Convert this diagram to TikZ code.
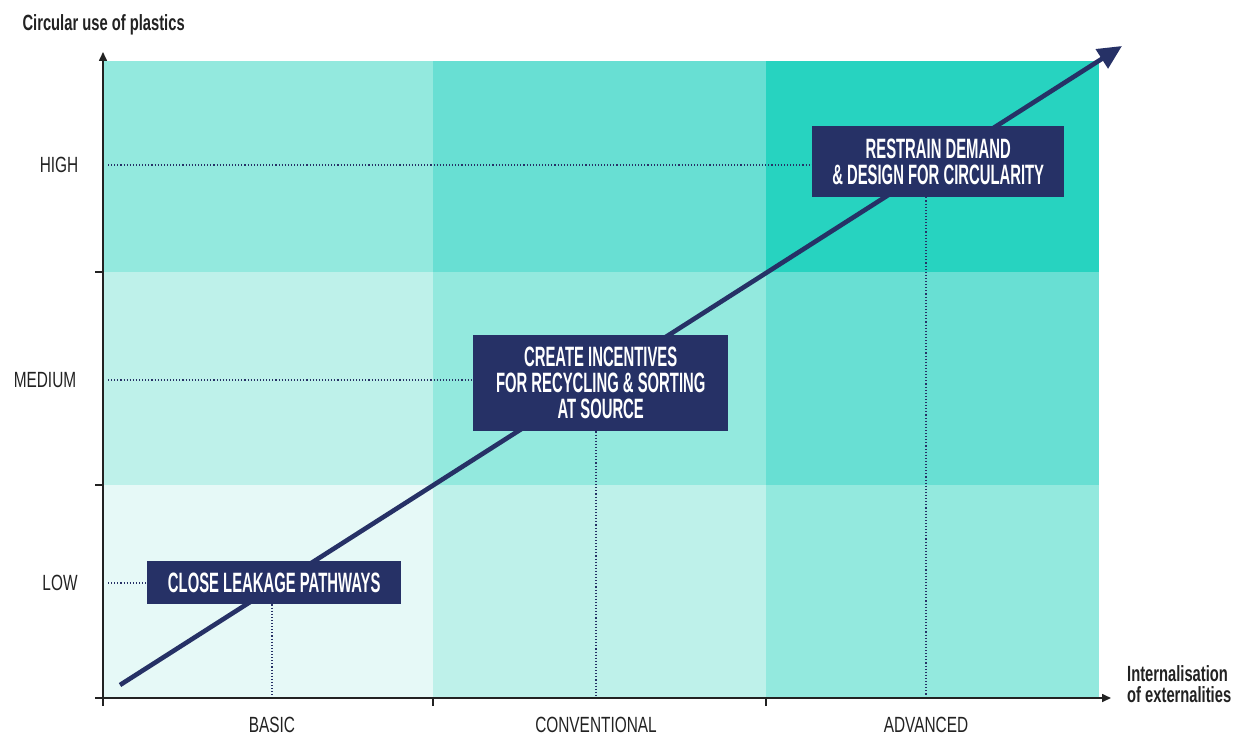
\documentclass[tikz,border=0pt]{standalone}
\usepackage{fontspec}
\usetikzlibrary{arrows.meta}
\newfontfamily\lblfont[FakeStretch=0.70]{Liberation Sans}
\newfontfamily\ttlfont[FakeStretch=0.67]{Liberation Sans}
\newfontfamily\bxfont[FakeStretch=0.53]{Liberation Sans}
\definecolor{cA}{HTML}{E6F9F7}
\definecolor{cB}{HTML}{BEF1EA}
\definecolor{cC}{HTML}{93E9DE}
\definecolor{cD}{HTML}{68DFD3}
\definecolor{cE}{HTML}{27D3C0}
\definecolor{navy}{HTML}{263166}
\definecolor{ink}{HTML}{222222}
\pgfdeclarelayer{bg}
\pgfdeclarelayer{mid}
\pgfsetlayers{bg,mid,main}
\tikzset{
  axis/.style={draw=ink, line width=1.6pt},
  guide/.style={draw=navy, line width=1.1pt, dotted},
  box/.style={fill=navy, text=white, font=\bxfont\bfseries\fontsize{28}{26}\selectfont, align=center, inner sep=0pt, anchor=north west},
  lbl/.style={text=ink, font=\lblfont\fontsize{22}{24}\selectfont},
  ttl/.style={text=ink, font=\ttlfont\bfseries\fontsize{22}{21}\selectfont},
}
\begin{document}
\begin{tikzpicture}[x=1pt,y=-1pt]
\useasboundingbox (0,0) rectangle (1239,735);
% boxes
\node[box, minimum width=254pt, minimum height=43pt] (b1) at (147,561) {CLOSE LEAKAGE PATHWAYS};
\node[box, minimum width=255pt, minimum height=96pt] (b2) at (473,335) {CREATE INCENTIVES\\FOR RECYCLING \& SORTING\\AT SOURCE};
\node[box, minimum width=252pt, minimum height=71pt] (b3) at (812,126) {RESTRAIN DEMAND\\\& DESIGN FOR CIRCULARITY};
% coordinates
\coordinate (o) at (103,706);
\coordinate (ytop) at (103,52);
\coordinate (xl) at (95,698);
\coordinate (xr) at (1111,698);
\coordinate (hH) at (108,165);
\coordinate (hM) at (108,380);
\coordinate (hL) at (108,583);
\coordinate (vB) at (272,698);
\coordinate (vC) at (596,698);
\coordinate (vA) at (926,698);
\coordinate (d0) at (120,685);
\coordinate (d1) at (1122,46);
\begin{pgfonlayer}{bg}
\fill[cC] (103,61) rectangle (433,272);
\fill[cD] (433,61) rectangle (766,272);
\fill[cE] (766,61) rectangle (1099,272);
\fill[cB] (103,272) rectangle (433,485);
\fill[cC] (433,272) rectangle (766,485);
\fill[cD] (766,272) rectangle (1099,485);
\fill[cA] (103,485) rectangle (433,698);
\fill[cB] (433,485) rectangle (766,698);
\fill[cC] (766,485) rectangle (1099,698);
\end{pgfonlayer}
\begin{pgfonlayer}{mid}
\path[guide] (hH) -- (b3.west |- hH);
\path[guide] (hM) -- (b2.west |- hM);
\path[guide] (hL) -- (b1.west |- hL);
\path[guide] (b1.south -| vB) -- (vB);
\path[guide] (b2.south -| vC) -- (vC);
\path[guide] (b3.south -| vA) -- (vA);
\draw[navy, line width=4.6pt, -{Triangle[length=24pt,width=22pt]}] (d0) -- (d1);
\end{pgfonlayer}
% axes
\draw[axis, -{Triangle[length=9pt,width=8pt]}] (o) -- (ytop);
\draw[axis, -{Triangle[length=9pt,width=8pt]}] (xl) -- (xr);
\coordinate (t1) at (95,272);
\coordinate (t2) at (95,485);
\coordinate (u1) at (433,706);
\coordinate (u2) at (766,706);
\draw[axis] (t1) -- (103,272);
\draw[axis] (t2) -- (103,485);
\draw[axis] (u1) -- (433,698);
\draw[axis] (u2) -- (766,698);
% labels
\node[lbl] (lh) at (59,165) {HIGH};
\node[lbl] (lm) at (45,380) {MEDIUM};
\node[lbl] (ll) at (60,583) {LOW};
\node[lbl] (lb) at (272,725) {BASIC};
\node[lbl] (lc) at (596,725) {CONVENTIONAL};
\node[lbl] (la) at (926,725) {ADVANCED};
\node[ttl, anchor=west] (ty) at (19,25) {Circular use of plastics};
\node[ttl, anchor=west, align=left, inner sep=0pt] (tx) at (1127,684) {Internalisation\\of externalities};
\end{tikzpicture}
\end{document}
